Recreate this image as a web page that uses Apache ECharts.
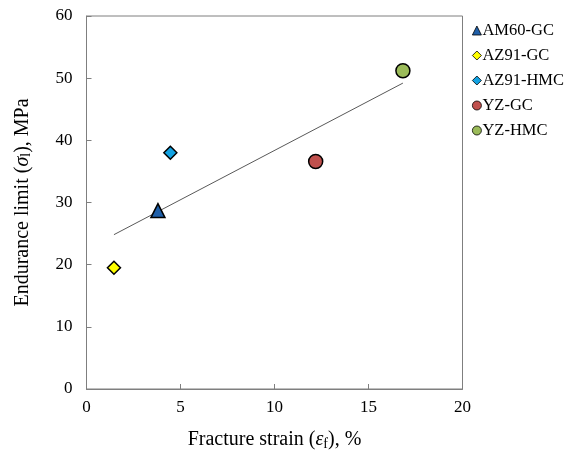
<!DOCTYPE html>
<html><head><meta charset="utf-8">
<script src="https://cdn.jsdelivr.net/npm/echarts@6/dist/echarts.min.js"></script>
<style>html,body{margin:0;padding:0;background:#fff}#c{width:565px;height:456px}</style>
</head><body><div id="c"></div>
<script>
const seriesNames = ['AM60-GC', 'AZ91-GC', 'AZ91-HMC', 'YZ-GC', 'YZ-HMC'];
const fractureStrain = [3.80, 1.46, 4.46, 12.19, 16.83];
const enduranceLimit = [28.7, 19.5, 38.0, 36.6, 51.2];
const xTicks = [0, 5, 10, 15, 20];
const yTicks = [0, 10, 20, 30, 40, 50, 60];

const symbols = ['triangle', 'diamond', 'diamond', 'circle', 'circle'];
const sizes = [14, 13, 13, 14, 14];
const colors = ['#1F5FA8', '#FFFF00', '#12A2E2', '#C0504D', '#9BBB59'];

// linear trend line (least squares) over the data range
const n = fractureStrain.length;
const mx = fractureStrain.reduce((a, b) => a + b, 0) / n;
const my = enduranceLimit.reduce((a, b) => a + b, 0) / n;
let sxx = 0, sxy = 0;
for (let i = 0; i < n; i++) { sxx += (fractureStrain[i] - mx) ** 2; sxy += (fractureStrain[i] - mx) * (enduranceLimit[i] - my); }
const slope = sxy / sxx, icpt = my - slope * mx;
const xmin = Math.min(...fractureStrain), xmax = Math.max(...fractureStrain);
const trend = [[xmin, icpt + slope * xmin], [xmax, icpt + slope * xmax]];

const font = 'Liberation Serif';
const axisGray = '#7f7f7f';

const series = [{
  type: 'line', data: trend, symbol: 'none', silent: true,
  lineStyle: { color: '#595959', width: 1 }, z: 1
}];
seriesNames.forEach((nm, i) => {
  series.push({
    name: nm, type: 'scatter', symbol: symbols[i], symbolSize: sizes[i],
    data: [[fractureStrain[i], enduranceLimit[i]]],
    itemStyle: { color: colors[i], borderColor: '#000', borderWidth: 1.5, opacity: 1 },
    z: 3
  });
});

const chart = echarts.init(document.getElementById('c'), null, { renderer: 'canvas' });
chart.setOption({
  animation: false,
  backgroundColor: '#fff',
  grid: { left: 86.5, top: 16, right: 102.5, bottom: 65, show: true, borderColor: axisGray, borderWidth: 1 },
  legend: {
    orient: 'vertical', left: 467, top: 17, itemGap: 8,
    itemWidth: 9, itemHeight: 9,
    data: seriesNames.map((nm, i) => ({ name: nm, icon: symbols[i], itemStyle: { borderWidth: 0.8, borderColor: '#000' } })),
    textStyle: { fontFamily: font, fontSize: 16.5, color: '#000', lineHeight: 16, padding: [0, 0, 0, -4] }
  },
  xAxis: {
    type: 'value', min: 0, max: 20, interval: 5,
    name: 'Fracture strain ({i|ε}{s|f}), %', nameLocation: 'middle', nameGap: 40,
    nameTextStyle: {
      fontFamily: font, fontSize: 20, color: '#000',
      rich: { i: { fontFamily: font, fontSize: 20, fontStyle: 'italic', color: '#000' },
              s: { fontFamily: font, fontSize: 14, color: '#000', padding: [8, 0, 0, 0] } }
    },
    axisLine: { lineStyle: { color: axisGray, width: 1 } },
    axisTick: { inside: true, length: 5, lineStyle: { color: axisGray } },
    axisLabel: { fontFamily: font, fontSize: 17, color: '#000', margin: 10,
      formatter: v => xTicks.includes(v) ? String(v) : '' },
    splitLine: { show: false }
  },
  yAxis: {
    type: 'value', min: 0, max: 60, interval: 10,
    name: 'Endurance limit ({i|σ}{s|l}), MPa', nameLocation: 'middle', nameGap: 53, nameRotate: 90,
    nameTextStyle: {
      fontFamily: font, fontSize: 20, color: '#000',
      rich: { i: { fontFamily: font, fontSize: 20, fontStyle: 'italic', color: '#000' },
              s: { fontFamily: font, fontSize: 14, color: '#000', padding: [8, 0, 0, 0] } }
    },
    axisLine: { lineStyle: { color: axisGray, width: 1 } },
    axisTick: { inside: true, length: 5, lineStyle: { color: axisGray } },
    axisLabel: { fontFamily: font, fontSize: 17, color: '#000', margin: 14,
      formatter: v => yTicks.includes(v) ? String(v) : '' },
    splitLine: { show: false }
  },
  series: series
});
</script></body></html>
